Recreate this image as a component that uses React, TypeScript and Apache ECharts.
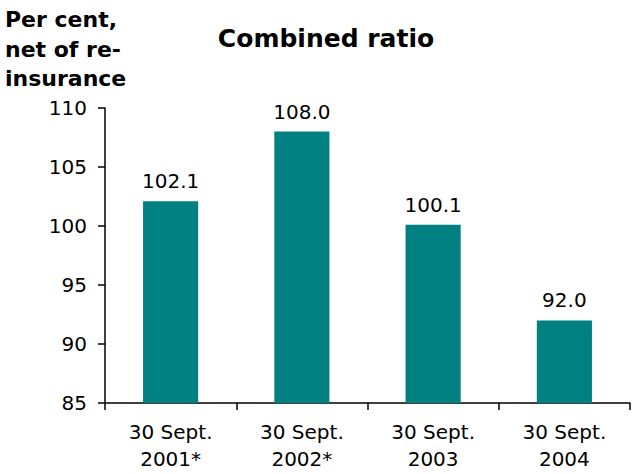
import React, { useEffect, useRef } from "react";
import * as echarts from "echarts";

const categories = ["30 Sept.\n2001*", "30 Sept.\n2002*", "30 Sept.\n2003", "30 Sept.\n2004"];
const values = [102.1, 108.0, 100.1, 92.0];
const chartTitle = "Combined ratio";
const axisTitle = "Per cent,\nnet of re-\ninsurance";

const FONT = "Verdana, 'DejaVu Sans', sans-serif";

export default function App() {
  const ref = useRef<HTMLDivElement>(null);
  useEffect(() => {
    if (!ref.current) return;
    const chart = echarts.init(ref.current, null, { renderer: "svg" });
    chart.setOption({
      animation: false,
      backgroundColor: "#ffffff",
      title: [
        {
          text: chartTitle,
          left: 321,
          top: 21,
          textAlign: "center",
          textStyle: { fontFamily: FONT, fontWeight: "bold", fontSize: 25, color: "#000" },
        },
        {
          text: axisTitle,
          left: 0,
          top: 0,
          textStyle: { fontFamily: FONT, fontWeight: "bold", fontSize: 22, lineHeight: 29.5, color: "#000" },
        },
      ],
      grid: { left: 105, right: 7, top: 108, bottom: 71 },
      xAxis: {
        type: "category",
        data: categories,
        axisLine: { lineStyle: { color: "#000", width: 1.5 } },
        axisTick: { show: true, alignWithLabel: false, length: 7, lineStyle: { color: "#000", width: 1.5 } },
        axisLabel: { fontFamily: FONT, fontSize: 20, color: "#000", lineHeight: 27, margin: 15 },
      },
      yAxis: {
        type: "value",
        min: 85,
        max: 110,
        interval: 5,
        axisLine: { show: true, lineStyle: { color: "#000", width: 1.5 } },
        axisTick: { show: true, length: 7, lineStyle: { color: "#000", width: 1.5 } },
        splitLine: { show: false },
        axisLabel: { fontFamily: FONT, fontSize: 20, color: "#000", margin: 18 },
      },
      series: [
        {
          type: "bar",
          data: values,
          barWidth: "42%",
          itemStyle: { color: "#008080" },
          label: {
            show: true,
            position: "top",
            distance: 10,
            formatter: (p: any) => Number(p.value).toFixed(1),
            fontFamily: FONT,
            fontSize: 20,
            color: "#000",
          },
        },
      ],
    });
    return () => chart.dispose();
  }, []);
  return <div ref={ref} style={{ width: 637, height: 474, position: "absolute", left: 0, top: 0 }} />;
}
